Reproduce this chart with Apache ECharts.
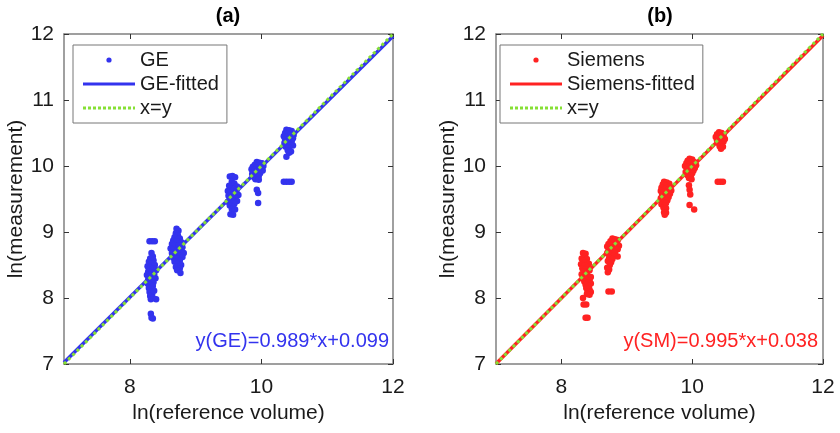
<!DOCTYPE html>
<html>
<head>
<meta charset="utf-8">
<script src="https://cdn.jsdelivr.net/npm/echarts@6/dist/echarts.min.js"></script>
<style>
  html, body { margin: 0; padding: 0; background: #fff; }
  #chart { width: 840px; height: 433px; }
</style>
</head>
<body>
<div id="chart"></div>
<script>
var gePoints = [
  // cluster near 8.33
  [8.30,8.86],[8.34,8.86],[8.38,8.86],
  [8.33,8.68],[8.35,8.63],[8.31,8.60],[8.36,8.57],[8.29,8.55],[8.33,8.52],[8.38,8.50],[8.27,8.48],
  [8.31,8.46],[8.35,8.44],[8.40,8.42],[8.28,8.40],[8.33,8.38],[8.37,8.36],[8.26,8.35],[8.30,8.33],
  [8.35,8.31],[8.39,8.30],[8.28,8.28],[8.32,8.26],[8.36,8.24],[8.27,8.22],[8.31,8.20],[8.35,8.18],
  [8.29,8.15],[8.33,8.13],[8.37,8.11],[8.30,8.09],[8.34,8.06],[8.31,8.03],[8.35,8.00],[8.32,7.98],[8.40,7.98],
  [8.32,7.76],[8.33,7.70],[8.35,7.69],
  // cluster near 8.72
  [8.71,9.05],[8.74,9.02],[8.70,8.98],[8.73,8.95],[8.68,8.92],[8.76,8.90],[8.66,8.87],[8.71,8.86],
  [8.79,8.84],[8.64,8.82],[8.69,8.80],[8.74,8.79],[8.80,8.77],[8.62,8.75],[8.67,8.74],[8.72,8.72],
  [8.77,8.70],[8.82,8.68],[8.64,8.68],[8.69,8.66],[8.75,8.64],[8.80,8.62],[8.66,8.61],[8.71,8.59],
  [8.76,8.57],[8.68,8.55],[8.73,8.52],[8.78,8.50],[8.70,8.47],[8.76,8.45],[8.72,8.42],[8.77,8.38],
  // cluster near 9.57
  [9.52,9.84],[9.56,9.85],[9.60,9.83],[9.55,9.76],[9.59,9.73],[9.51,9.70],[9.63,9.69],[9.54,9.66],
  [9.58,9.64],[9.49,9.62],[9.62,9.61],[9.53,9.59],[9.57,9.57],[9.65,9.56],[9.50,9.55],[9.55,9.53],
  [9.60,9.52],[9.52,9.50],[9.57,9.48],[9.63,9.47],[9.49,9.46],[9.54,9.44],[9.59,9.43],[9.52,9.40],
  [9.57,9.38],[9.55,9.35],[9.60,9.34],[9.53,9.27],[9.57,9.26],
  // cluster near 9.95
  [9.93,10.06],[9.97,10.05],[10.01,10.04],[9.90,10.02],[9.95,10.01],[10.03,10.00],[9.87,9.99],[9.92,9.98],
  [9.99,9.97],[9.85,9.95],[9.90,9.94],[9.96,9.93],[10.02,9.93],[9.88,9.91],[9.93,9.90],[9.98,9.89],
  [9.86,9.88],[9.91,9.86],[9.96,9.85],[9.89,9.83],[9.94,9.82],[9.91,9.80],[9.96,9.79],
  [9.93,9.64],[9.95,9.59],[9.95,9.44],
  // cluster near 10.42
  [10.38,10.55],[10.42,10.54],[10.46,10.53],[10.36,10.50],[10.40,10.49],[10.45,10.48],[10.49,10.47],
  [10.34,10.45],[10.39,10.44],[10.43,10.43],[10.48,10.42],[10.36,10.40],[10.41,10.39],[10.46,10.37],
  [10.35,10.35],[10.39,10.34],[10.44,10.32],[10.48,10.31],[10.37,10.29],[10.42,10.28],[10.40,10.24],
  [10.45,10.22],[10.42,10.20],[10.38,10.14],
  [10.34,9.76],[10.38,9.76],[10.42,9.76],[10.46,9.76]
];

var smPoints = [
  // cluster near 8.37
  [8.33,8.68],[8.37,8.67],[8.35,8.63],[8.31,8.60],[8.39,8.59],[8.33,8.56],[8.37,8.54],[8.42,8.52],
  [8.30,8.51],[8.35,8.49],[8.40,8.47],[8.32,8.45],[8.37,8.43],[8.43,8.42],[8.34,8.40],[8.39,8.38],
  [8.31,8.36],[8.36,8.34],[8.41,8.33],[8.45,8.32],[8.33,8.30],[8.38,8.28],[8.43,8.27],[8.35,8.25],
  [8.40,8.23],[8.45,8.22],[8.37,8.20],[8.42,8.18],[8.38,8.15],[8.43,8.13],[8.40,8.10],[8.45,8.09],
  [8.39,8.06],[8.43,8.05],
  [8.33,8.00],[8.34,7.90],[8.38,7.90],[8.37,7.70],[8.40,7.70],
  // cluster near 8.78
  [8.78,8.90],[8.82,8.89],[8.86,8.88],[8.75,8.86],[8.80,8.85],[8.85,8.84],[8.72,8.82],[8.77,8.81],
  [8.83,8.80],[8.88,8.79],[8.70,8.78],[8.75,8.76],[8.80,8.75],[8.86,8.74],[8.72,8.72],[8.77,8.71],
  [8.82,8.69],[8.70,8.68],[8.75,8.66],[8.80,8.64],[8.86,8.63],[8.73,8.61],[8.78,8.59],[8.71,8.56],
  [8.76,8.54],[8.74,8.50],[8.70,8.46],[8.73,8.43],[8.71,8.39],
  [8.72,8.10],[8.77,8.10],
  // cluster near 9.6
  [9.57,9.76],[9.61,9.75],[9.65,9.73],[9.55,9.72],[9.60,9.70],[9.64,9.68],[9.53,9.67],[9.58,9.65],
  [9.63,9.64],[9.68,9.63],[9.52,9.62],[9.56,9.60],[9.61,9.59],[9.66,9.58],[9.54,9.56],[9.59,9.55],
  [9.64,9.53],[9.52,9.51],[9.57,9.50],[9.62,9.48],[9.55,9.46],[9.60,9.44],[9.53,9.42],[9.58,9.40],
  [9.56,9.37],[9.60,9.36],
  [9.57,9.30],[9.60,9.29],[9.58,9.26],
  // cluster near 9.98
  [9.96,10.11],[10.00,10.10],[9.93,10.08],[9.98,10.07],[10.03,10.06],[9.91,10.04],[9.96,10.03],[10.01,10.02],
  [10.06,10.01],[9.89,10.00],[9.94,9.99],[9.99,9.98],[10.04,9.97],[9.92,9.95],[9.97,9.94],[10.02,9.93],
  [9.90,9.91],[9.95,9.90],[10.00,9.89],[9.93,9.86],[9.98,9.85],[9.95,9.82],[9.99,9.80],
  [9.95,9.71],[9.96,9.64],[9.97,9.57],[9.96,9.41],[10.03,9.34],
  // cluster near 10.44
  [10.41,10.51],[10.45,10.50],[10.38,10.48],[10.43,10.47],[10.48,10.46],[10.36,10.44],[10.40,10.43],
  [10.45,10.42],[10.50,10.41],[10.38,10.39],[10.43,10.38],[10.48,10.37],[10.40,10.35],[10.45,10.33],
  [10.42,10.30],[10.47,10.29],[10.44,10.26],
  [10.39,9.76],[10.43,9.76],[10.47,9.76]
];

var axisRange = [7, 12];
var xTicks = [8, 10, 12];
var yTicks = [7, 8, 9, 10, 11, 12];
var geFit = { slope: 0.989, intercept: 0.099 };
var smFit = { slope: 0.995, intercept: 0.038 };

var BLUE = '#3333ee';
var RED = '#ff2222';
var GREEN = '#86e035';
var AXIS = '#808080';
var FONT = 'Liberation Sans, Arial, sans-serif';

function fitLine(f) {
  return axisRange.map(function (x) { return [x, f.slope * x + f.intercept]; });
}
function identityLine() {
  return axisRange.map(function (x) { return [x, x]; });
}

// legend icons drawn as small svg pictures, like the matlab legend
function svgIcon(body) {
  var svg = '<svg xmlns="http://www.w3.org/2000/svg" width="52" height="14">' + body + '</svg>';
  return 'image://data:image/svg+xml;charset=utf-8,' + encodeURIComponent(svg);
}
function dotIcon(color) {
  return svgIcon('<circle cx="26" cy="7" r="2.6" fill="' + color + '"/>');
}
function lineIcon(color) {
  return svgIcon('<line x1="0" y1="7" x2="52" y2="7" stroke="' + color + '" stroke-width="3"/>');
}
function dottedIcon(color) {
  return svgIcon('<line x1="0" y1="7" x2="52" y2="7" stroke="' + color + '" stroke-width="3" stroke-dasharray="3 2"/>');
}

function xAxes(gi) {
  return [{
    gridIndex: gi, type: 'value', position: 'bottom',
    min: axisRange[0], max: axisRange[1],
    axisLine: { show: true, lineStyle: { color: AXIS, width: 1.5 } },
    axisTick: { show: true, inside: true, length: 5, customValues: xTicks, lineStyle: { color: '#333' } },
    axisLabel: { customValues: xTicks, fontSize: 21, color: '#1a1a1a', fontFamily: FONT, margin: 13 },
    splitLine: { show: false },
    name: 'ln(reference volume)', nameLocation: 'middle', nameGap: 38,
    nameTextStyle: { fontSize: 21, color: '#1a1a1a', fontFamily: FONT }
  }, {
    gridIndex: gi, type: 'value', position: 'top',
    min: axisRange[0], max: axisRange[1],
    axisLine: { show: true, lineStyle: { color: AXIS, width: 1.5 } },
    axisTick: { show: true, inside: true, length: 5, customValues: xTicks, lineStyle: { color: '#333' } },
    axisLabel: { show: false },
    splitLine: { show: false }
  }];
}

function yAxes(gi) {
  return [{
    gridIndex: gi, type: 'value', position: 'left',
    min: axisRange[0], max: axisRange[1], interval: 1,
    axisLine: { show: true, lineStyle: { color: AXIS, width: 1.5 } },
    axisTick: { show: true, inside: true, length: 5, lineStyle: { color: '#333' } },
    axisLabel: { fontSize: 21, color: '#1a1a1a', fontFamily: FONT, margin: 10,
      formatter: function (v) { return yTicks.indexOf(v) >= 0 ? String(v) : ''; } },
    splitLine: { show: false },
    name: 'ln(measurement)', nameLocation: 'middle', nameGap: 34,
    nameTextStyle: { fontSize: 21, color: '#1a1a1a', fontFamily: FONT }
  }, {
    gridIndex: gi, type: 'value', position: 'right',
    min: axisRange[0], max: axisRange[1], interval: 1,
    axisLine: { show: true, lineStyle: { color: AXIS, width: 1.5 } },
    axisTick: { show: true, inside: true, length: 5, lineStyle: { color: '#333' } },
    axisLabel: { show: false },
    splitLine: { show: false }
  }];
}

function legendBox(left, names, color) {
  return {
    orient: 'vertical', left: left, top: 45,
    padding: [5, 8, 5, 10], itemGap: 4, itemWidth: 52, itemHeight: 14,
    borderColor: '#777', borderWidth: 1, backgroundColor: '#fff',
    textStyle: { fontSize: 20, color: '#1a1a1a', fontFamily: FONT },
    data: [
      { name: names[0], icon: dotIcon(color) },
      { name: names[1], icon: lineIcon(color) },
      { name: names[2], icon: dottedIcon(GREEN) }
    ]
  };
}

var chart = echarts.init(document.getElementById('chart'), null, { renderer: 'canvas' });

var option = {
  backgroundColor: '#fff',
  animation: false,
  grid: [
    { left: 64, top: 34, width: 329, height: 330 },
    { left: 496, top: 34, width: 327, height: 330 }
  ],
  xAxis: xAxes(0).concat(xAxes(1)),
  yAxis: yAxes(0).concat(yAxes(1)),
  legend: [
    legendBox(73, ['GE', 'GE-fitted', 'x=y'], BLUE),
    legendBox(500, ['Siemens', 'Siemens-fitted', 'x=y'], RED)
  ],
  graphic: [
    { type: 'text', x: 228, y: 16, style: { text: '(a)', font: 'bold 20px ' + FONT, fill: '#000', align: 'center', verticalAlign: 'middle' } },
    { type: 'text', x: 660, y: 16, style: { text: '(b)', font: 'bold 20px ' + FONT, fill: '#000', align: 'center', verticalAlign: 'middle' } },
    { type: 'text', x: 389, y: 341, z: 10, style: { text: 'y(GE)=' + geFit.slope + '*x+' + geFit.intercept, font: '20px ' + FONT, fill: BLUE, align: 'right', verticalAlign: 'middle' } },
    { type: 'text', x: 818, y: 341, z: 10, style: { text: 'y(SM)=' + smFit.slope + '*x+' + smFit.intercept, font: '20px ' + FONT, fill: RED, align: 'right', verticalAlign: 'middle' } }
  ],
  series: [
    { name: 'GE', type: 'scatter', xAxisIndex: 0, yAxisIndex: 0, data: gePoints,
      symbolSize: 6.5, itemStyle: { color: BLUE, opacity: 1 } },
    { name: 'GE-fitted', type: 'line', xAxisIndex: 0, yAxisIndex: 0, data: fitLine(geFit),
      symbol: 'none', lineStyle: { color: BLUE, width: 3.5 }, itemStyle: { color: BLUE } },
    { name: 'x=y', type: 'line', xAxisIndex: 0, yAxisIndex: 0, data: identityLine(),
      symbol: 'none', lineStyle: { color: GREEN, width: 3, type: [3, 3] }, itemStyle: { color: GREEN } },
    { name: 'Siemens', type: 'scatter', xAxisIndex: 2, yAxisIndex: 2, data: smPoints,
      symbolSize: 6.5, itemStyle: { color: RED, opacity: 1 } },
    { name: 'Siemens-fitted', type: 'line', xAxisIndex: 2, yAxisIndex: 2, data: fitLine(smFit),
      symbol: 'none', lineStyle: { color: RED, width: 3.5 }, itemStyle: { color: RED } },
    { name: 'x=y', type: 'line', xAxisIndex: 2, yAxisIndex: 2, data: identityLine(),
      symbol: 'none', lineStyle: { color: GREEN, width: 3, type: [3, 3] }, itemStyle: { color: GREEN } }
  ]
};

chart.setOption(option);
</script>
</body>
</html>
